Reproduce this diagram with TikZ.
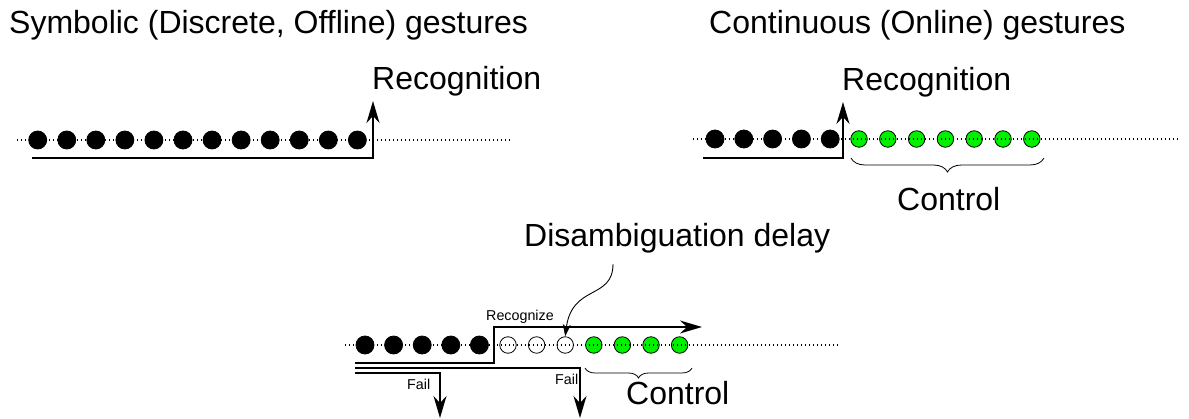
\documentclass[tikz,border=0pt]{standalone}
\usepackage{fontspec}
\setmainfont{Liberation Sans}
\usetikzlibrary{arrows.meta,decorations.pathreplacing}
\definecolor{ctrlgreen}{RGB}{0,240,0}
\tikzset{
  sample/.style={circle,draw=black,line width=0.8pt,inner sep=0pt,minimum size=16.5pt},
  done/.style={sample,fill=black,minimum size=18pt},
  ctrl/.style={sample,fill=ctrlgreen},
  wait/.style={sample,fill=white},
  stream/.style={line width=1.1pt,dash pattern=on 1.1pt off 2.9pt},
  track/.style={line width=1.6pt},
  big/.style={font=\fontsize{32}{37}\selectfont,inner sep=0pt,anchor=base west},
  small/.style={font=\fontsize{14.3}{17}\selectfont,inner sep=0pt,anchor=base west},
  tip/.style={-{Stealth[length=22pt,width=13pt,inset=7pt]}},
  curly/.style={decorate,decoration={brace,mirror,amplitude=#1},line width=0.8pt},
}
\begin{document}
\begin{tikzpicture}[x=1pt,y=-1pt]
\useasboundingbox (0,0) rectangle (1189,419);

% symbolic gestures
\node[big] (symTitle) at (9,34) {Symbolic (Discrete, Offline) gestures};
\foreach \i in {0,...,11} \node[done] (s\i) at (37.7+29.06*\i,140) {};
\coordinate (sIn) at (17,140);
\coordinate (sOut) at (512,140);
\draw[stream] (sIn) -- (sOut);
\node[big] (symRec) at (372,90) {Recognition};
\coordinate (sA) at (32,158);
\coordinate (sB) at (373,158);
\coordinate (sC) at (373,101);
\draw[track,tip] (sA) -- (sB) -- (sC);

% continuous gestures
\node[big] (conTitle) at (709,34) {Continuous (Online) gestures};
\foreach \i in {0,...,4} \node[done] (c\i) at (715+28.8*\i,139) {};
\foreach \i in {5,...,11} \node[ctrl] (c\i) at (715+28.8*\i,139) {};
\coordinate (cIn) at (693,139);
\coordinate (cOut) at (1180,139);
\draw[stream] (cIn) -- (cOut);
\node[big] (conRec) at (842,91) {Recognition};
\coordinate (cA) at (703,158);
\coordinate (cB) at (843,158);
\coordinate (cC) at (843,102);
\draw[track,tip] (cA) -- (cB) -- (cC);
\coordinate (cL) at (851,158);
\coordinate (cR) at (1044,158);
\draw[curly=14pt] (cL) -- (cR);
\node[big] (conCtrl) at (897,211) {Control};

% hybrid with delay
\node[big] (delay) at (524,247) {Disambiguation delay};
\foreach \i in {0,...,4} \node[done] (h\i) at (365+28.6*\i,345) {};
\foreach \i in {5,...,7} \node[wait] (h\i) at (365+28.6*\i,345) {};
\foreach \i in {8,...,11} \node[ctrl] (h\i) at (365+28.6*\i,345) {};
\coordinate (hIn) at (345,345);
\coordinate (hOut) at (838,345);
\draw[stream] (hIn) -- (hOut);
\node[small] (recz) at (486,321) {Recognize};
\node[small] (failA) at (407,390) {Fail};
\node[small] (failB) at (555,385) {Fail};
\coordinate (rA) at (355,363);
\coordinate (rB) at (494,363);
\coordinate (rC) at (494,327);
\coordinate (rD) at (702,327);
\draw[track,line width=1.4pt,tip] (rA) -- (rB) -- (rC) -- (rD);
\coordinate (fA) at (355,368);
\coordinate (fB) at (580,368);
\coordinate (fC) at (580,418);
\draw[track,line width=1.4pt,tip] (fA) -- (fB) -- (fC);
\coordinate (gA) at (355,373);
\coordinate (gB) at (440,373);
\coordinate (gC) at (440,418);
\draw[track,line width=1.4pt,tip] (gA) -- (gB) -- (gC);
\coordinate (dFrom) at (613,264);
\draw[line width=0.9pt,-{Stealth[length=12pt,width=8pt,inset=3pt]}]
  (dFrom) .. controls (613,300) and (572,284) .. (h7.north);
\coordinate (hL) at (585,368);
\coordinate (hR) at (692,368);
\draw[curly=10pt] (hL) -- (hR);
\node[big] (hCtrl) at (626,405) {Control};
\end{tikzpicture}
\end{document}
